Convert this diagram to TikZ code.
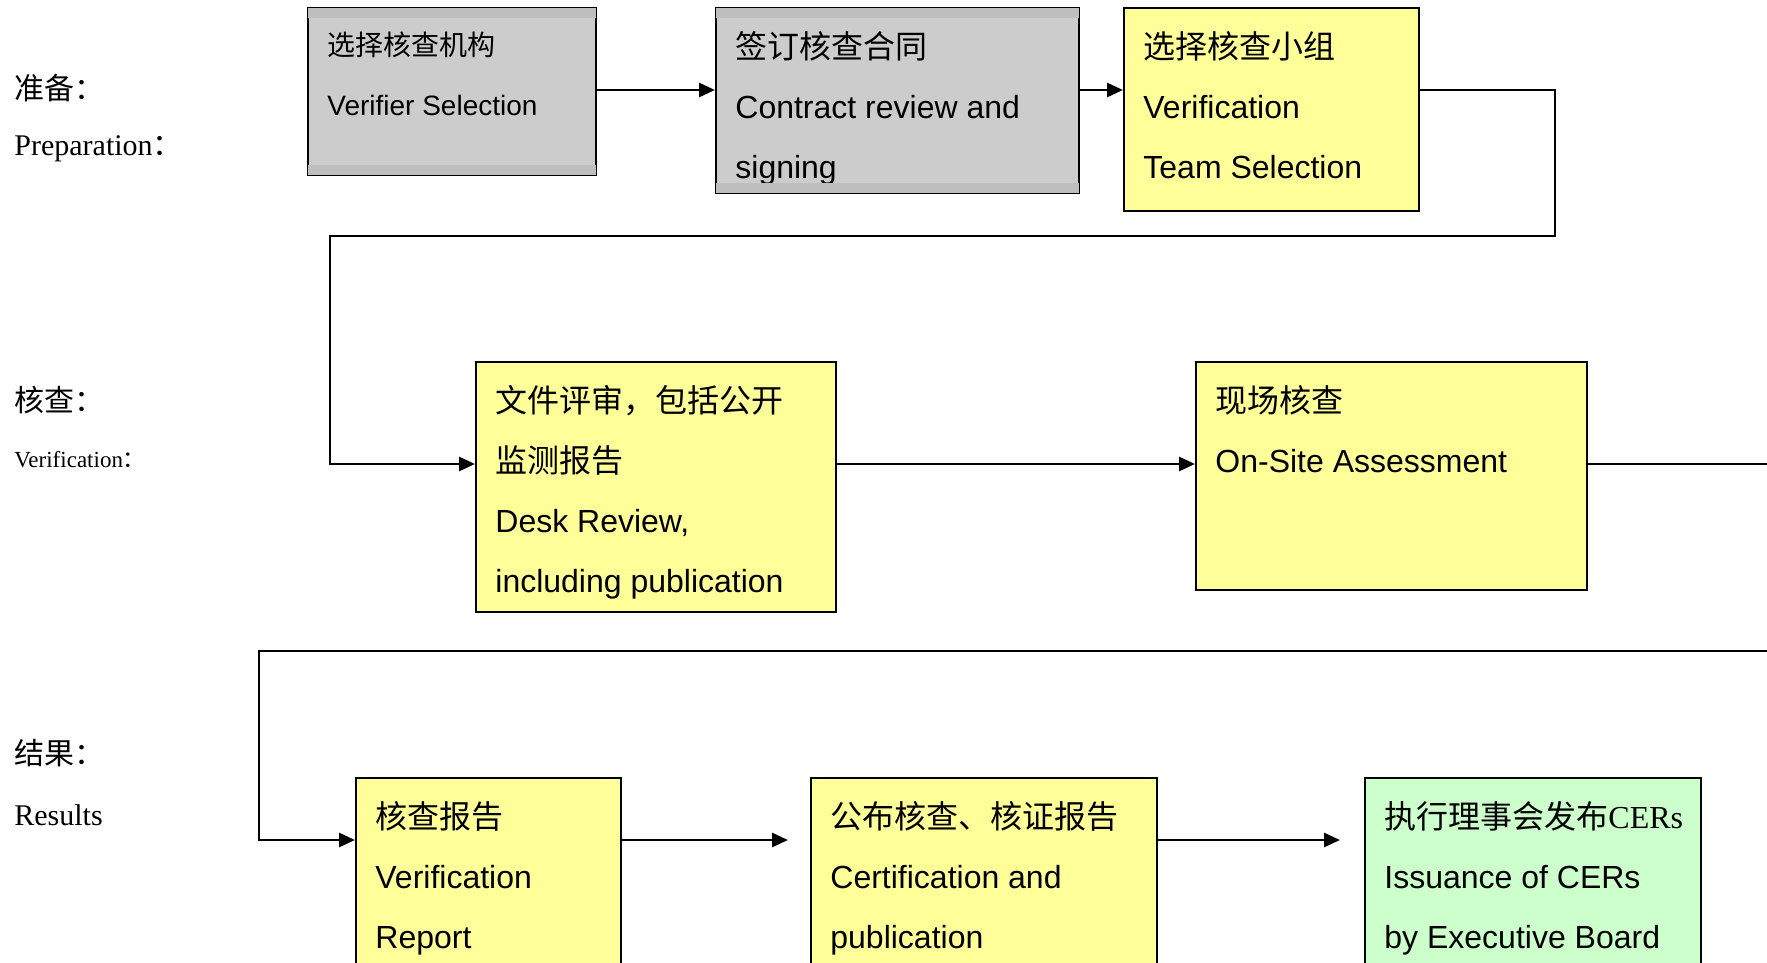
\documentclass[tikz,border=0pt]{standalone}
\usepackage{fontspec}
\setmainfont{Liberation Serif}
\newfontfamily\cjk{Noto Sans CJK SC}
\newfontfamily\arial{Liberation Sans}
\usetikzlibrary{arrows.meta,positioning}

\definecolor{boxgray}{HTML}{CCCCCC}
\definecolor{bandgray}{HTML}{BEBEBE}
\definecolor{boxyellow}{HTML}{FFFF99}
\definecolor{boxgreen}{HTML}{CCFFCC}

\tikzset{
  stage/.style={draw=black, line width=0.8pt, anchor=north west, inner sep=0pt},
  graybox/.style={stage, fill=boxgray},
  yellowbox/.style={stage, fill=boxyellow},
  greenbox/.style={stage, fill=boxgreen},
  boxtext/.style={anchor=base west, align=left, inner sep=0pt, font=\fontsize{16}{30}\selectfont\arial},
  smalltext/.style={boxtext, font=\fontsize{14}{30}\selectfont\arial},
  phase/.style={anchor=west, inner sep=0pt, font=\fontsize{15}{18}\selectfont},
  link/.style={line width=1.4pt},
  arr/.style={link, -{Triangle[length=8pt,width=7pt]}},
}

\begin{document}
\begin{tikzpicture}[x=0.5pt, y=-0.5pt]
    \useasboundingbox (0,0) rectangle (1767,963);
    \clip (0,0) rectangle (1767,963);

    % rows of the connectors
    \coordinate (r1) at (0,90);
    \coordinate (r2) at (0,464);
    \coordinate (r3) at (0,840);

    % phase names
    \node[phase] (l1) at (14,88) {\cjk 准备：};
    \node[phase] (l2) at (14,149) {Preparation{\cjk ：}};
    \node[phase] (l3) at (14,400) {\cjk 核查：};
    \node[phase, font=\fontsize{11.5}{14}\selectfont] (l4) at (14,460) {Verification{\cjk ：}};
    \node[phase] (l5) at (14,753) {\cjk 结果：};
    \node[phase] (l6) at (14,815) {Results};

    % preparation (text placed by its last baseline)
    \node[graybox, minimum width=144pt, minimum height=83.5pt] (b1) at (307,7) {};
    \node[smalltext] (t1) at ([shift={(20,109)}]b1.north west) {{\cjk 选择核查机构}\\Verifier Selection};
    \node[graybox, minimum width=181.5pt, minimum height=92.5pt] (b2) at (715,7) {};
    \node[boxtext] (t2) at ([shift={(20,171)}]b2.north west) {{\cjk 签订核查合同}\\Contract review and\\signing};
    \node[yellowbox, minimum width=147.5pt, minimum height=101.5pt] (b3) at (1123,7) {};
    \node[boxtext] (t3) at ([shift={(20,171)}]b3.north west) {{\cjk 选择核查小组}\\Verification\\Team Selection};

    % grey bands
    \fill[bandgray] ([shift={(1,1)}]b1.north west) rectangle ([shift={(-1,11)}]b1.north east);
    \fill[bandgray] ([shift={(1,-11)}]b1.south west) rectangle ([shift={(-1,-1)}]b1.south east);
    \fill[bandgray] ([shift={(1,1)}]b2.north west) rectangle ([shift={(-1,11)}]b2.north east);
    \fill[bandgray] ([shift={(1,-11)}]b2.south west) rectangle ([shift={(-1,-1)}]b2.south east);

    % verification
    \node[yellowbox, minimum width=180pt, minimum height=125pt] (b4) at (475,361) {};
    \node[boxtext] (t4) at ([shift={(20,231)}]b4.north west) {{\cjk 文件评审，包括公开}\\{\cjk 监测报告}\\Desk Review,\\including publication};
    \node[yellowbox, minimum width=195.5pt, minimum height=114pt] (b5) at (1195,361) {};
    \node[boxtext] (t5) at ([shift={(20,111)}]b5.north west) {{\cjk 现场核查}\\On-Site Assessment};

    % results
    \node[yellowbox, minimum width=132.5pt, minimum height=125pt] (b6) at (355,777) {};
    \node[boxtext] (t6) at ([shift={(20,171)}]b6.north west) {{\cjk 核查报告}\\Verification\\Report};
    \node[yellowbox, minimum width=173pt, minimum height=125pt] (b7) at (810,777) {};
    \node[boxtext] (t7) at ([shift={(20,171)}]b7.north west) {{\cjk 公布核查、核证报告}\\Certification and\\publication};
    \node[greenbox, minimum width=168pt, minimum height=125pt] (b8) at (1364,777) {};
    \node[boxtext] (t8) at ([shift={(20,171)}]b8.north west) {{\cjk 执行理事会发布}{\rmfamily CERs}\\Issuance of CERs\\by Executive Board};

    % turning points
    \coordinate (c1) at (1555,236);
    \coordinate (c2) at (330,236);
    \coordinate (e1) at (1767,464);
    \coordinate (e2) at (1767,651);
    \coordinate (c3) at (259,651);

    % connectors
    \draw[arr] (b1.east |- r1) -- (b2.west |- r1);
    \draw[arr] (b2.east |- r1) -- (b3.west |- r1);
    \draw[arr] (b3.east |- r1) -| (c1) -- (c2) |- (b4.west |- r2);
    \draw[arr] (b4.east |- r2) -- (b5.west |- r2);
    \draw[link] (b5.east |- r2) -- (e1);
    \draw[arr] (e2) -- (c3) |- (b6.west |- r3);
    \draw[arr, shorten >=11pt] (b6.east |- r3) -- (b7.west |- r3);
    \draw[arr, shorten >=12pt] (b7.east |- r3) -- (b8.west |- r3);
\end{tikzpicture}
\end{document}
